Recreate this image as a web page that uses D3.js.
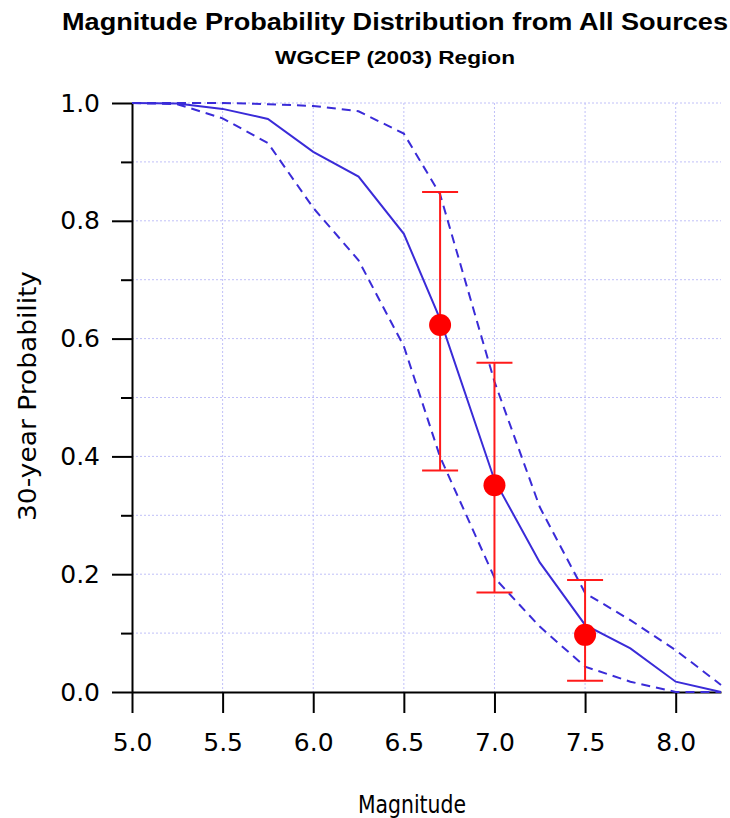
<!DOCTYPE html>
<html>
<head>
<meta charset="utf-8">
<script src="https://cdn.jsdelivr.net/npm/d3@7"></script>
<style>
  body { margin: 0; background: #fff; }
  svg { display: block; }
</style>
</head>
<body>
<div id="chart"></div>
<script>
// magnitude bins and the three model curves
const mags = [5.0, 5.25, 5.5, 5.75, 6.0, 6.25, 6.5, 6.7, 7.0, 7.25, 7.5, 7.75, 8.0, 8.25]
const meanProb = [1.0, 0.999, 0.99, 0.973, 0.917, 0.875, 0.778, 0.633, 0.36, 0.22, 0.114, 0.074, 0.0175, 0.0]
const upperProb = [1.0, 1.0, 1.0, 0.998, 0.995, 0.986, 0.948, 0.845, 0.527, 0.314, 0.168, 0.122, 0.071, 0.012]
const lowerProb = [1.0, 0.998, 0.974, 0.932, 0.822, 0.733, 0.587, 0.399, 0.194, 0.111, 0.043, 0.0175, 0.0, 0.0]

// WGCEP points with error bars
const obsMag = [6.7, 7.0, 7.5]
const obsProb = [0.623, 0.351, 0.097]
const obsLow = [0.376, 0.169, 0.019]
const obsHigh = [0.849, 0.559, 0.19]

const xTicks = [5.0, 5.5, 6.0, 6.5, 7.0, 7.5, 8.0]
const yMajor = [0.0, 0.2, 0.4, 0.6, 0.8, 1.0]
const yMinor = [0.1, 0.3, 0.5, 0.7, 0.9]
const yGrid = [0.1, 0.2, 0.3, 0.4, 0.5, 0.6, 0.7, 0.8, 0.9, 1.0]

var W = 730, H = 818
var margin = { top: 103, right: 9, bottom: 126, left: 132 }
var width = W - margin.left - margin.right
var height = H - margin.top - margin.bottom

var lineColor = "#3a2bd8"
var gridColor = "#c0c0f8"
var axisFont = "'DejaVu Sans', Verdana, sans-serif"

var svg = d3.select("#chart").append("svg")
            .attr("width", W)
            .attr("height", H)

var g = svg.append("g")
           .attr("transform", "translate(" + margin.left + "," + margin.top + ")")

var x = d3.scaleLinear().domain([5.0, 8.25]).range([0, width])
var y = d3.scaleLinear().domain([0, 1]).range([height, 0])

// dotted grid
g.selectAll(".hgrid")
    .data(yGrid)
    .join("line")
    .attr("x1", 0).attr("x2", width)
    .attr("y1", d => y(d)).attr("y2", d => y(d))
    .attr("stroke", gridColor).attr("stroke-width", 1)
    .attr("stroke-dasharray", "2,2")

g.selectAll(".vgrid")
    .data(xTicks.slice(1))
    .join("line")
    .attr("x1", d => x(d)).attr("x2", d => x(d))
    .attr("y1", 0).attr("y2", height)
    .attr("stroke", gridColor).attr("stroke-width", 1)
    .attr("stroke-dasharray", "2,2")

// axes
var xAxis = g.append("g")
    .attr("transform", "translate(0," + height + ")")
    .call(d3.axisBottom(x).tickValues(xTicks).tickFormat(d3.format(".1f"))
            .tickSize(21).tickSizeOuter(0).tickPadding(20))

var yAxis = g.append("g")
    .call(d3.axisLeft(y).tickValues(yMajor).tickFormat(d3.format(".1f"))
            .tickSize(20).tickSizeOuter(0).tickPadding(12))

g.append("g")
    .call(d3.axisLeft(y).tickValues(yMinor).tickFormat("")
            .tickSize(11).tickSizeOuter(0))
    .select(".domain").remove()

g.selectAll(".domain").attr("stroke", "#000").attr("stroke-width", 2)
g.selectAll(".tick line").attr("stroke", "#000").attr("stroke-width", 2)
g.selectAll(".tick text")
    .attr("fill", "#000")
    .style("font-family", axisFont)
    .style("font-size", "25px")

// model curves
var line = d3.line()
    .x(d => x(d[0]))
    .y(d => y(d[1]))

var curves = [
    { vals: upperProb, dash: "9,6" },
    { vals: lowerProb, dash: "9,6" },
    { vals: meanProb, dash: null }
]

g.selectAll(".curve")
    .data(curves)
    .join("path")
    .attr("class", "curve")
    .attr("fill", "none")
    .attr("stroke", lineColor)
    .attr("stroke-width", 2)
    .attr("stroke-dasharray", d => d.dash)
    .attr("d", d => line(mags.map((m, i) => [m, d.vals[i]])))

// error bars and points
var obs = obsMag.map((m, i) => ({ m: m, p: obsProb[i], lo: obsLow[i], hi: obsHigh[i] }))
var capW = 18

var bars = g.selectAll(".obs")
    .data(obs)
    .join("g")
    .attr("class", "obs")

bars.append("line")
    .attr("x1", d => x(d.m)).attr("x2", d => x(d.m))
    .attr("y1", d => y(d.lo)).attr("y2", d => y(d.hi))
    .attr("stroke", "#ff1a1a").attr("stroke-width", 2)

bars.append("line")
    .attr("x1", d => x(d.m) - capW).attr("x2", d => x(d.m) + capW)
    .attr("y1", d => y(d.hi)).attr("y2", d => y(d.hi))
    .attr("stroke", "#ff1a1a").attr("stroke-width", 2)

bars.append("line")
    .attr("x1", d => x(d.m) - capW).attr("x2", d => x(d.m) + capW)
    .attr("y1", d => y(d.lo)).attr("y2", d => y(d.lo))
    .attr("stroke", "#ff1a1a").attr("stroke-width", 2)

bars.append("circle")
    .attr("cx", d => x(d.m))
    .attr("cy", d => y(d.p))
    .attr("r", 11)
    .attr("fill", "#ff0000")

// titles
svg.append("text")
    .attr("x", 395).attr("y", 30)
    .attr("text-anchor", "middle")
    .attr("textLength", 666).attr("lengthAdjust", "spacingAndGlyphs")
    .style("font-family", "'Liberation Sans', Arial, sans-serif")
    .style("font-weight", "bold").style("font-size", "23px")
    .text("Magnitude Probability Distribution from All Sources")

svg.append("text")
    .attr("x", 395).attr("y", 64)
    .attr("text-anchor", "middle")
    .attr("textLength", 240).attr("lengthAdjust", "spacingAndGlyphs")
    .style("font-family", "'Liberation Sans', Arial, sans-serif")
    .style("font-weight", "bold").style("font-size", "18px")
    .text("WGCEP (2003) Region")

svg.append("text")
    .attr("x", 412).attr("y", 813)
    .attr("text-anchor", "middle")
    .attr("textLength", 108).attr("lengthAdjust", "spacingAndGlyphs")
    .style("font-family", axisFont).style("font-size", "24px")
    .text("Magnitude")

svg.append("text")
    .attr("transform", "translate(36,396) rotate(-90)")
    .attr("text-anchor", "middle")
    .attr("textLength", 250).attr("lengthAdjust", "spacingAndGlyphs")
    .style("font-family", axisFont).style("font-size", "24px")
    .text("30-year Probability")
</script>
</body>
</html>
